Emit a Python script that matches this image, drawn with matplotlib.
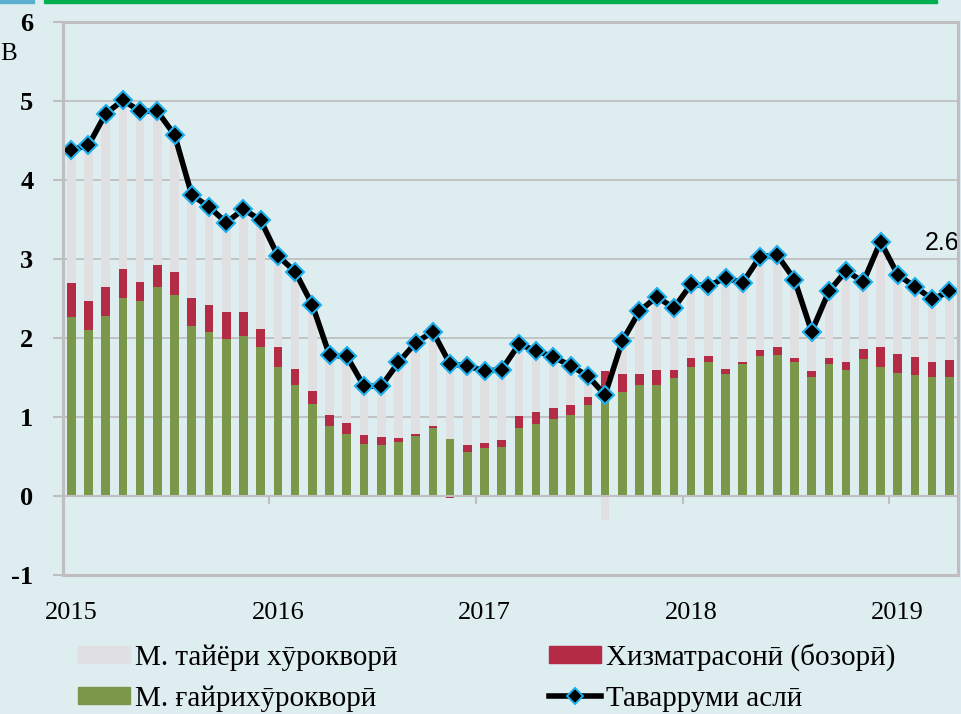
import numpy as np
import matplotlib.pyplot as plt
from matplotlib.patches import Rectangle
from matplotlib.lines import Line2D

# monthly data, Jan 2015 - Apr 2019
nonfood = [2.26, 2.10, 2.28, 2.50, 2.47, 2.65, 2.55, 2.15, 2.07, 1.99, 2.02, 1.89,
           1.63, 1.41, 1.16, 0.88, 0.78, 0.66, 0.64, 0.68, 0.76, 0.86, 0.72, 0.56,
           0.61, 0.62, 0.86, 0.91, 0.97, 1.02, 1.15, 1.26, 1.32, 1.40, 1.41, 1.49,
           1.63, 1.70, 1.55, 1.67, 1.77, 1.79, 1.70, 1.51, 1.67, 1.59, 1.73, 1.63,
           1.56, 1.53, 1.51, 1.50]
services = [0.44, 0.37, 0.37, 0.37, 0.24, 0.28, 0.29, 0.35, 0.35, 0.34, 0.31, 0.23,
            0.26, 0.20, 0.17, 0.15, 0.15, 0.11, 0.11, 0.06, 0.02, 0.02, -0.03, 0.09,
            0.06, 0.09, 0.15, 0.15, 0.14, 0.13, 0.10, 0.32, 0.23, 0.15, 0.19, 0.11,
            0.12, 0.07, 0.06, 0.03, 0.08, 0.10, 0.05, 0.07, 0.08, 0.11, 0.13, 0.26,
            0.24, 0.23, 0.19, 0.22]
food = [1.68, 1.97, 2.19, 2.14, 2.16, 1.94, 1.73, 1.31, 1.24, 1.13, 1.30, 1.37,
        1.15, 1.23, 1.09, 0.75, 0.84, 0.62, 0.64, 0.95, 1.16, 1.20, 0.98, 1.00,
        0.91, 0.89, 0.91, 0.78, 0.65, 0.50, 0.27, -0.30, 0.41, 0.79, 0.92, 0.78,
        0.93, 0.89, 1.15, 1.00, 1.18, 1.16, 0.99, 0.50, 0.84, 1.15, 0.85, 1.33,
        1.00, 0.90, 0.79, 0.87]
headline = [4.38, 4.44, 4.84, 5.01, 4.87, 4.87, 4.57, 3.81, 3.66, 3.46, 3.63, 3.49,
            3.04, 2.84, 2.42, 1.78, 1.77, 1.39, 1.39, 1.69, 1.94, 2.08, 1.67, 1.65,
            1.58, 1.60, 1.92, 1.84, 1.76, 1.65, 1.52, 1.28, 1.96, 2.34, 2.52, 2.38,
            2.68, 2.66, 2.76, 2.70, 3.03, 3.05, 2.74, 2.08, 2.59, 2.85, 2.71, 3.22,
            2.80, 2.65, 2.49, 2.59]
years = ['2015', '2016', '2017', '2018', '2019']

labels = ['М. тайёри хӯрокворӣ', 'М. ғайрихӯрокворӣ', 'Хизматрасонӣ (бозорӣ)', 'Таварруми аслӣ']
bg = '#DEEDF0'
grey = '#BFBFBF'
c_food = '#E0E0E2'
c_serv = '#B32B45'
c_nonfood = '#7B974A'

plt.rcParams['font.family'] = ['Liberation Serif', 'DejaVu Serif']
plt.rcParams['axes.unicode_minus'] = False

fig = plt.figure(figsize=(9.61, 7.14), dpi=100, facecolor=bg)
ax = fig.add_axes([0.0652, 0.1947, 0.9317, 0.7745])
ax.set_facecolor(bg)

x = np.arange(len(headline))
pos_bottom = np.zeros(len(x))
neg_bottom = np.zeros(len(x))
for vals, col in [(nonfood, c_nonfood), (services, c_serv), (food, c_food)]:
    v = np.array(vals)
    bottom = np.where(v >= 0, pos_bottom, neg_bottom)
    ax.bar(x, v, bottom=bottom, width=0.5, color=col, zorder=2)
    pos_bottom += np.where(v >= 0, v, 0)
    neg_bottom += np.where(v < 0, v, 0)

ax.plot(x, headline, color='black', lw=4, marker='D', ms=9.5,
        mfc='black', mec='#1CB0EE', mew=1.5, zorder=4)
ax.annotate(f'{headline[-1]:.1f}', (x[-1], headline[-1]), xytext=(7, 26),
            textcoords='offset points', ha='right', va='bottom',
            fontsize=18, family='Liberation Sans')

ax.set_xlim(-0.5, len(x) - 0.5)
ax.set_ylim(-1, 6)
ax.set_yticks(range(-1, 7))
ax.yaxis.grid(True, color=grey, lw=1.3, zorder=0)
ax.tick_params(axis='y', direction='out', length=7, width=1.5, color=grey,
               labelsize=19, pad=14)
for t in ax.get_yticklabels():
    t.set_fontweight('bold')

ax.set_xticks(np.arange(0, len(x), 12))
ax.set_xticklabels(years)
ax.set_xticks(np.arange(-0.5, len(x), 12), minor=True)
ax.tick_params(axis='x', which='major', length=0, labelsize=19, pad=76)
ax.tick_params(axis='x', which='minor', direction='out', length=6, width=1.5, color=grey)

for s in ['top', 'right']:
    ax.spines[s].set_visible(False)
ax.spines['bottom'].set_position(('data', 0))
ax.spines['bottom'].set_color(grey)
ax.spines['bottom'].set_linewidth(1.5)
ax.spines['left'].set_color(grey)
ax.spines['left'].set_linewidth(2.2)
ax.add_patch(Rectangle((0, 0), 1, 1, transform=ax.transAxes, fill=False,
                       ec=grey, lw=2.2, clip_on=False, zorder=5))

handles = [Rectangle((0, 0), 1, 1, color=c_food),
           Rectangle((0, 0), 1, 1, color=c_nonfood),
           Rectangle((0, 0), 1, 1, color=c_serv),
           Line2D([], [], color='black', lw=4, marker='D', ms=8, mfc='black',
                  mec='#1CB0EE', mew=1.4)]
fig.legend(handles, labels, ncol=2, loc='upper left', bbox_to_anchor=(0.081, 0.099),
           frameon=False, fontsize=21, handlelength=1.8, handleheight=0.55,
           handletextpad=0.15, columnspacing=5.2, labelspacing=0.5,
           borderpad=0, borderaxespad=0)

# top stripe and label at left edge
fig.patches.append(Rectangle((0, 0.996), 0.035, 0.004, transform=fig.transFigure,
                             color='#5BAFD0', zorder=10))
fig.patches.append(Rectangle((0.046, 0.996), 0.929, 0.004, transform=fig.transFigure,
                             color='#00B050', zorder=10))
fig.text(0.0, 0.925, 'В', ha='left', va='center', fontsize=18)

fig.savefig('out.png', dpi=100, facecolor=bg)
